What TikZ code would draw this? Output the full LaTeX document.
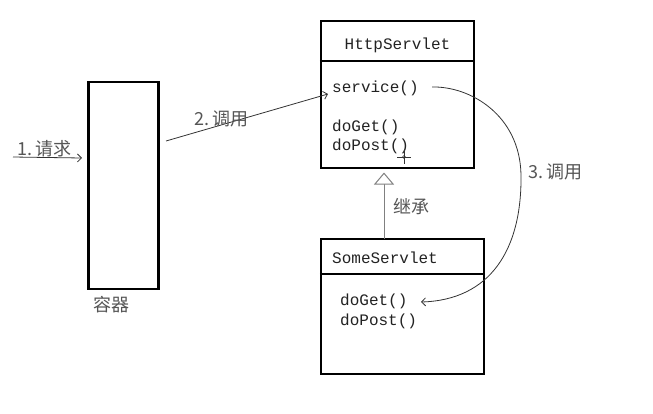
\documentclass[tikz,border=0pt]{standalone}
\usepackage{fontspec}
\setmonofont{Liberation Mono}
\newfontfamily\cjk{Noto Sans CJK SC}
\usetikzlibrary{arrows.meta,calc}
\definecolor{txt}{HTML}{222222}
\definecolor{lbl}{HTML}{555555}
\definecolor{ln}{HTML}{333333}
\tikzset{
  box/.style={draw=black, line width=2.2pt, inner sep=0pt, fill=none},
  mono/.style={font=\ttfamily\fontsize{16}{18}\selectfont, text=txt, inner sep=0pt},
  lab/.style={font=\cjk\fontsize{18}{20}\selectfont, text=lbl, inner sep=0pt},
  conn/.style={draw=ln, line width=0.8pt, -{Straight Barb[length=4pt,width=8pt]}},
  inh/.style={draw=gray, line width=1pt, -{Triangle[open,length=12pt,width=20pt,fill=white]}}
}
\begin{document}
\begin{tikzpicture}[x=1pt,y=-1pt]
\useasboundingbox (0,0) rectangle (653,413);
% container
\node[box, minimum width=70pt, minimum height=207pt] (cont) at (123.5,185.5) {};
\node[lab, anchor=north] (contlbl) at (111,296) {容器};
% HttpServlet
\node[box, minimum width=153pt, minimum height=147pt] (http) at (397.5,94.5) {};
\draw[line width=2.2pt] (http.west |- 0,61) -- (http.east |- 0,61);
\node[mono] (httpname) at (397.5,45) {HttpServlet};
\node[mono, anchor=base west] (svc) at (332,92) {service()};
\node[mono, anchor=base west] (hget) at (332,131) {doGet()};
\node[mono, anchor=base west] (hpost) at (332,150) {doPost()};
% cursor mark
\coordinate (cur) at (404,157);
\draw[ln, line width=0.6pt] ($(cur)+(0,-8)$) -- ($(cur)+(0,7)$);
\draw[ln, line width=0.6pt] ($(cur)+(-7,0)$) -- ($(cur)+(7,0)$);
\draw[ln, line width=0.5pt] (cur) circle (1.5pt);
% SomeServlet
\node[box, minimum width=163pt, minimum height=135pt] (some) at (402.5,306.5) {};
\draw[line width=2.2pt] (some.west |- 0,274) -- (some.east |- 0,274);
\node[mono, anchor=base west] (somename) at (332,263) {SomeServlet};
\node[mono, anchor=base west] (sget) at (340,305) {doGet()};
\node[mono, anchor=base west] (spost) at (340,325) {doPost()};
% 1. request
\coordinate (reqS) at (13,157);
\coordinate (reqE) at (82,158);
\draw[conn] (reqS) -- (reqE);
\node[lab, anchor=base west] (req) at (17,155) {1.\,请求};
% 2. call
\coordinate (c2s) at (166,141);
\coordinate (c2e) at (328,94);
\draw[conn] (c2s) -- (c2e);
\node[lab, anchor=base west] (call2) at (194,125) {2.\,调用};
% inheritance
\coordinate (inhS) at (384,239);
\coordinate (inhE) at (384,172.5);
\draw[inh] (inhS) -- (inhE);
\node[lab, anchor=base west] (inhlbl) at (393,213) {继承};
% 3. call
\coordinate (c3s) at (432,87);
\coordinate (c3m) at (521,175);
\coordinate (c3e) at (421,302);
\draw[conn] (c3s) .. controls (470,86) and (520,115) .. (c3m)
  .. controls (522,250) and (490,300) .. (c3e);
\node[lab, anchor=base west] (call3) at (528,178) {3.\,调用};
\end{tikzpicture}
\end{document}
